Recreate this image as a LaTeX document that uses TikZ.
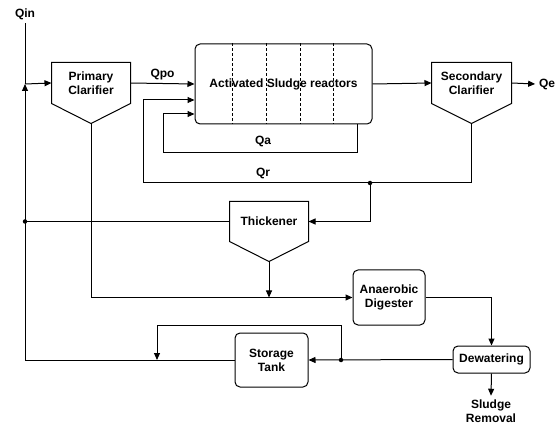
\documentclass[tikz,border=0pt]{standalone}
\usepackage{fontspec}
\setmainfont{Liberation Sans}
\usetikzlibrary{arrows.meta}
\tikzset{
  every picture/.style={
    line width=1pt,
    >={Triangle[width=6pt, length=7pt]}
  },
  point/.style={
    circle, fill, minimum width=4.5pt,
    inner sep=0pt
  },
  unit/.style={
    draw, rounded corners=5pt, align=center,
    inner sep=2pt
  },
  tank/.style={
    minimum width=78pt, minimum height=40pt,
    align=center, inner sep=0pt
  }
}

\begin{document}
\begin{tikzpicture}[
      x=1pt, y=-1pt,
      font=\bfseries\fontsize{12}{14}\selectfont
    ]
    \useasboundingbox (0,0) rectangle (559,427);
    % clarifiers and thickener
    \node [tank] (pc) at (91,83) {Primary\\Clarifier};
    \node [tank, minimum width=79pt] (sc) at (471.5,83) {Secondary\\Clarifier};
    \node [tank, minimum height=39pt] (th) at (269,221.5) {Thickener};
    \foreach \t in {pc,sc,th}
      \draw (\t.north west) -- (\t.north east) -- (\t.south east)
        -- ([yshift=-20pt]\t.south) coordinate (\t-tip) -- (\t.south west) -- cycle;
    % reactors and sludge line
    \node [unit, minimum width=177pt, minimum height=80pt] (asr) at (283.5,84) {};
    \foreach \x in {38,72,106,139}
      \draw [line width=0.7pt, dash pattern=on 3pt off 2pt]
        ([xshift=\x pt]asr.north west) -- ([xshift=\x pt]asr.south west);
    \node at (asr) {Activated Sludge reactors};
    \node [unit, minimum width=72pt, minimum height=55pt] (ad) at (389,297.5) {Anaerobic\\Digester};
    \node [unit, minimum width=77pt, minimum height=27pt] (dw) at (491.5,359.5) {Dewatering};
    \node [unit, minimum width=73pt, minimum height=54pt] (st) at (271.5,360) {Storage\\Tank};
    % labels
    \node (qin) at (25,14) {Qin};
    \node (qe) at (547,84) {Qe};
    \node [align=center] (sr) at (491,411) {Sludge\\Removal};
    \coordinate (in) at (25,84);
    \coordinate (qa-out) at (357,124);
    \coordinate (split) at (370,183);
    \coordinate (ret) at (25,221.5);
    \coordinate (split2) at (341,360);
    \coordinate (st-back) at (157,360);
    % flows
    \draw (qin.south) -- (in);
    \draw [->] (in) -- (pc.west);
    \draw [->] (pc.east) -- node [above] {Qpo} (asr.west);
    \draw [->] (asr.east) -- (sc.west);
    \draw [->] (sc.east) -- (qe.west);
    \draw [->] (qa-out) |- (163,153) |- ([yshift=-30pt]asr.west);
    \node at (263,141) {Qa};
    \draw [->] (sc-tip) |- (143,183) |- ([yshift=-16pt]asr.west);
    \node at (263,173) {Qr};
    \draw [->] (split) |- (th.east);
    \draw (th.west) -- (ret);
    \draw [->] (st.west) -| (in);
    \draw [->] (th-tip) -- (th-tip |- ad.west);
    \draw [->] (pc-tip) |- (ad.west);
    \draw [->] (ad.east) -| (dw.north);
    \draw [->] (dw.south) -- (sr.north);
    \draw [->] (dw.west) -- (st.east);
    \draw [->] (split2) -- ++(0,-35) -| (st-back);
    \node [point] at (split) {};
    \node [point] at (ret) {};
    \node [point] at (split2) {};
  \end{tikzpicture}
\end{document}
